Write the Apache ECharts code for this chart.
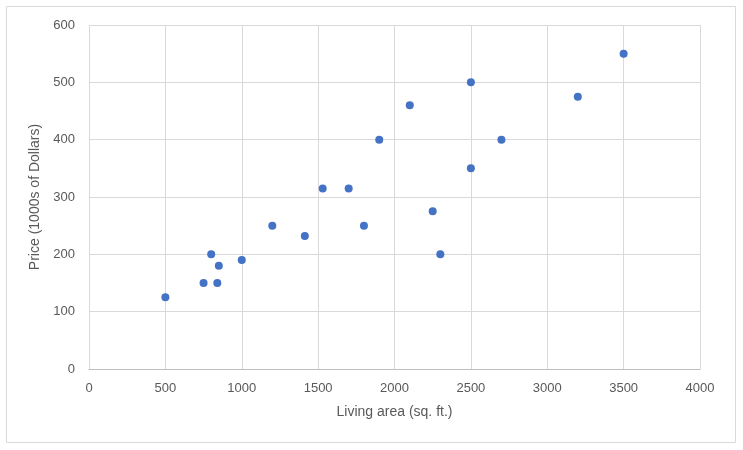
<!DOCTYPE html>
<html>
<head>
<meta charset="utf-8">
<script src="https://cdn.jsdelivr.net/npm/echarts@6/dist/echarts.min.js"></script>
<style>
  html, body { margin: 0; padding: 0; background: #fff; }
  #container { width: 743px; height: 450px; }
</style>
</head>
<body>
<div id="container"></div>
<script>
// living area (sq. ft.) and price (1000s of dollars)
var livingArea = [500, 750, 800, 840, 850, 1000, 1200, 1413, 1530, 1700, 1800, 1900, 2100, 2250, 2300, 2500, 2500, 2700, 3200, 3500];
var price      = [125, 150, 200, 150, 180, 190, 250, 232, 315, 315, 250, 400, 460, 275, 200, 350, 500, 400, 475, 550];

var xTicks = [0, 500, 1000, 1500, 2000, 2500, 3000, 3500, 4000];
var yTicks = [0, 100, 200, 300, 400, 500, 600];

var points = [];
for (var i = 0; i < livingArea.length; i++) {
  points.push([livingArea[i], price[i]]);
}

var dom = document.getElementById("container");
var myChart = echarts.init(dom);

var labelFont = "'Liberation Sans', sans-serif";

var option = {
  animation: false,
  backgroundColor: '#fff',
  graphic: [{
    type: 'rect',
    shape: { x: 6.5, y: 6.5, width: 729, height: 436 },
    style: { fill: 'none', stroke: '#d9d9d9', lineWidth: 1 },
    silent: true
  }],
  grid: {
    left: 89,
    right: 43,
    top: 25,
    bottom: 81,
    containLabel: false
  },
  xAxis: {
    type: 'value',
    min: xTicks[0],
    max: xTicks[xTicks.length - 1],
    interval: 500,
    name: 'Living area (sq. ft.)',
    nameLocation: 'middle',
    nameGap: 36,
    nameTextStyle: { color: '#595959', fontSize: 14, fontFamily: labelFont },
    axisLine: { show: true, lineStyle: { color: '#bfbfbf', width: 1 } },
    axisTick: { show: false },
    axisLabel: { color: '#595959', fontSize: 13, fontFamily: labelFont, margin: 13,
                 formatter: function (v) { return String(v); } },
    splitLine: { show: true, lineStyle: { color: '#d9d9d9', width: 1 } }
  },
  yAxis: {
    type: 'value',
    min: yTicks[0],
    max: yTicks[yTicks.length - 1],
    interval: 100,
    name: 'Price (1000s of Dollars)',
    nameLocation: 'middle',
    nameGap: 41,
    nameRotate: 90,
    nameTextStyle: { color: '#595959', fontSize: 14, fontFamily: labelFont },
    axisLine: { show: false },
    axisTick: { show: false },
    axisLabel: { color: '#595959', fontSize: 13, fontFamily: labelFont, margin: 14,
                 formatter: function (v) { return String(v); } },
    splitLine: { show: true, lineStyle: { color: '#d9d9d9', width: 1 } }
  },
  series: [{
    name: 'Price',
    type: 'scatter',
    symbol: 'circle',
    symbolSize: 8,
    itemStyle: { color: '#4472C4', opacity: 1 },
    data: points
  }]
};

myChart.setOption(option, true);
</script>
</body>
</html>
